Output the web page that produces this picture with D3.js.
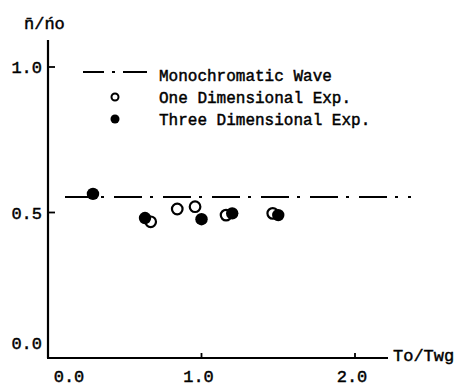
<!DOCTYPE html>
<html>
<head>
<meta charset="utf-8">
<script src="https://cdn.jsdelivr.net/npm/d3@7"></script>
<style>
  html, body { margin: 0; padding: 0; background: #fff; }
  svg text { font-family: 'Liberation Mono', 'DejaVu Sans Mono', monospace; fill: #000; stroke: #000; stroke-width: 0.45px; }
</style>
</head>
<body>
<div id="chart"></div>
<script>
// Data
var monoLevel = 0.553;   // monochromatic wave, horizontal dash-dot line
var oneDimX = [0.669, 0.842, 0.958, 1.16, 1.464];
var oneDimY = [0.468, 0.512, 0.520, 0.491, 0.497];
var threeDimX = [0.293, 0.632, 1.0, 1.2, 1.50];
var threeDimY = [0.564, 0.481, 0.477, 0.497, 0.491];
var xTicks = [0, 1, 2];
var yTicks = [0, 0.5, 1];
var legendLabels = ["Monochromatic Wave", "One Dimensional Exp.", "Three Dimensional Exp."];

var width = 468, height = 386;

var svg = d3.select("#chart").append("svg")
  .attr("width", width).attr("height", height);

// scales
var x = d3.scaleLinear().domain([0, 2]).range([48, 355]);
var y = d3.scaleLinear().domain([0, 1]).range([358, 67]);

// y axis line
svg.append("line")
  .attr("x1", x(0)).attr("x2", x(0))
  .attr("y1", 40).attr("y2", y(0))
  .attr("stroke", "#000").attr("stroke-width", 2.2);

// x axis line
svg.append("line")
  .attr("x1", x(0) - 1).attr("x2", 388)
  .attr("y1", y(0)).attr("y2", y(0))
  .attr("stroke", "#000").attr("stroke-width", 2.2);

// y ticks (inward)
svg.selectAll(".ytick")
  .data(yTicks.filter(function (d) { return d > 0; })).join("line")
    .attr("class", "ytick")
    .attr("x1", x(0)).attr("x2", x(0) + 7)
    .attr("y1", function (d) { return y(d); })
    .attr("y2", function (d) { return y(d); })
    .attr("stroke", "#000").attr("stroke-width", 1.8);

svg.selectAll(".ylab")
  .data(yTicks).join("text")
    .attr("class", "ylab")
    .attr("x", 42)
    .attr("y", function (d) { return d === 0 ? y(d) - 9 : y(d) + 6; })
    .attr("text-anchor", "end")
    .attr("font-size", 17)
    .text(function (d) { return d3.format(".1f")(d); });

// x ticks (inward)
svg.selectAll(".xtick")
  .data(xTicks.filter(function (d) { return d > 0; })).join("line")
    .attr("class", "xtick")
    .attr("x1", function (d) { return x(d); })
    .attr("x2", function (d) { return x(d); })
    .attr("y1", y(0)).attr("y2", y(0) - 5)
    .attr("stroke", "#000").attr("stroke-width", 1.8);

svg.selectAll(".xlab")
  .data(xTicks).join("text")
    .attr("class", "xlab")
    .attr("x", function (d) { return d === 0 ? x(d) + 21 : x(d) - 3; })
    .attr("y", 382)
    .attr("text-anchor", "middle")
    .attr("font-size", 17)
    .text(function (d) { return d3.format(".1f")(d); });

// axis titles
svg.append("text")
  .attr("x", 393).attr("y", 361)
  .attr("font-size", 17)
  .text("To/Twg");

svg.append("text")
  .attr("x", 24).attr("y", 29)
  .attr("font-size", 17)
  .text("n\u0304/n\u0301o");

// monochromatic wave line
var dashPattern = "28,8,3,10";
svg.append("line")
  .attr("x1", 65).attr("x2", 411)
  .attr("y1", y(monoLevel)).attr("y2", y(monoLevel))
  .attr("stroke", "#000").attr("stroke-width", 2)
  .attr("stroke-dasharray", dashPattern);

// one dimensional (open)
svg.selectAll(".one")
  .data(d3.zip(oneDimX, oneDimY)).join("circle")
    .attr("class", "one")
    .attr("cx", function (d) { return x(d[0]); })
    .attr("cy", function (d) { return y(d[1]); })
    .attr("r", 5.3)
    .attr("fill", "#fff").attr("stroke", "#000").attr("stroke-width", 2.2);

// three dimensional (filled)
svg.selectAll(".three")
  .data(d3.zip(threeDimX, threeDimY)).join("circle")
    .attr("class", "three")
    .attr("cx", function (d) { return x(d[0]); })
    .attr("cy", function (d) { return y(d[1]); })
    .attr("r", 6.2)
    .attr("fill", "#000");

// legend
var lg = svg.append("g");
lg.append("line")
  .attr("x1", 83).attr("x2", 147).attr("y1", 72).attr("y2", 72)
  .attr("stroke", "#000").attr("stroke-width", 2)
  .attr("stroke-dasharray", "21,8,3,8,24");
lg.append("circle")
  .attr("cx", 115).attr("cy", 97).attr("r", 3.5)
  .attr("fill", "#fff").attr("stroke", "#000").attr("stroke-width", 2);
lg.append("circle")
  .attr("cx", 115).attr("cy", 119).attr("r", 4.5)
  .attr("fill", "#000");
lg.selectAll(".leg")
  .data(legendLabels).join("text")
    .attr("class", "leg")
    .attr("x", 159)
    .attr("y", function (d, i) { return 81 + i * 22; })
    .attr("font-size", 16)
    .text(function (d) { return d; });
</script>
</body>
</html>
